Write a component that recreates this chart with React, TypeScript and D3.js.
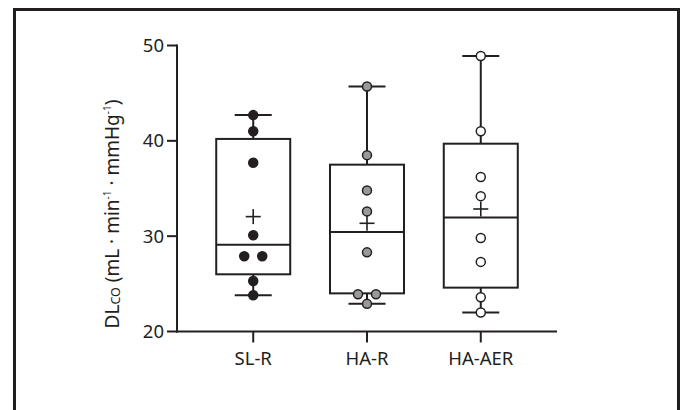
import React from "react";
import * as d3 from "d3";

const categories = ["SL-R", "HA-R", "HA-AER"];
const slrValues = [42.7, 41.0, 37.7, 30.1, 27.9, 27.9, 25.3, 23.8];
const harValues = [45.7, 38.5, 34.8, 32.6, 28.3, 23.9, 23.9, 22.9];
const haaerValues = [48.9, 41.0, 36.2, 34.2, 29.8, 27.3, 23.6, 22.0];
const q1s = [26.0, 24.0, 24.6];
const medians = [29.1, 30.45, 31.95];
const q3s = [40.2, 37.5, 39.7];
const means = [32.05, 31.35, 32.85];
const yTicks = [20, 30, 40, 50];
const markerFills = ["#231f20", "#999999", "#ffffff"];

const seriesValues = [slrValues, harValues, haaerValues];
const INK = "#231f20";
const FONT = "'Noto Sans', sans-serif";

export default function App() {
  const width = 681;
  const height = 410;
  const y = d3.scaleLinear().domain([20, 50]).range([331.5, 45.5]);
  const x = d3.scalePoint<string>().domain(categories).range([177, 557]).padding(0.67);
  const boxW = 74;
  const capW = 37;
  const r = 4.5;

  return (
    <svg
      width={width}
      height={height}
      style={{ position: "absolute", left: 0, top: 0, background: "#fff" }}
      fontFamily={FONT}
    >
      {/* frame */}
      <path d={`M14.5,412 V9.5 H678.5 V412`} fill="none" stroke={INK} strokeWidth={3} />

      {/* y axis */}
      <line x1={177} x2={177} y1={y(50) - 1} y2={y(20) + 1} stroke={INK} strokeWidth={2} />
      {yTicks.map((t) => (
        <g key={t}>
          <line x1={167} x2={177} y1={y(t)} y2={y(t)} stroke={INK} strokeWidth={2} />
          <text x={164} y={y(t)} dy="0.36em" textAnchor="end" fontSize={18.5} fill={INK}>
            {t}
          </text>
        </g>
      ))}

      {/* x axis */}
      <line x1={176} x2={557} y1={y(20)} y2={y(20)} stroke={INK} strokeWidth={2} />
      {categories.map((c) => (
        <g key={c}>
          <line x1={x(c)!} x2={x(c)!} y1={y(20)} y2={y(20) + 11} stroke={INK} strokeWidth={2} />
          <text x={x(c)!} y={365} textAnchor="middle" fontSize={18.5} fill={INK}>
            {c}
          </text>
        </g>
      ))}

      {/* y label */}
      <text
        transform={`translate(119,214) rotate(-90)`}
        textAnchor="middle"
        fontSize={19}
        fill={INK}
      >
        DL
        <tspan fontSize={12.5} dy={1}>CO</tspan>
        <tspan dy={-1}> (mL · min</tspan>
        <tspan fontSize={10} dy={-8}>-1</tspan>
        <tspan dy={8}> · mmHg</tspan>
        <tspan fontSize={10} dy={-8}>-1</tspan>
        <tspan dy={8}>)</tspan>
      </text>

      {/* boxes */}
      {categories.map((c, i) => {
        const cx = x(c)!;
        const vals = seriesValues[i];
        const mn = d3.min(vals)!;
        const mx = d3.max(vals)!;
        return (
          <g key={c} stroke={INK} strokeWidth={2} fill="none">
            <line x1={cx} x2={cx} y1={y(mx)} y2={y(q3s[i])} />
            <line x1={cx} x2={cx} y1={y(q1s[i])} y2={y(mn)} />
            <line x1={cx - capW / 2} x2={cx + capW / 2} y1={y(mx)} y2={y(mx)} />
            <line x1={cx - capW / 2} x2={cx + capW / 2} y1={y(mn)} y2={y(mn)} />
            <rect x={cx - boxW / 2} y={y(q3s[i])} width={boxW} height={y(q1s[i]) - y(q3s[i])} />
            <line x1={cx - boxW / 2} x2={cx + boxW / 2} y1={y(medians[i])} y2={y(medians[i])} />
            <line x1={cx - 7.5} x2={cx + 7.5} y1={y(means[i])} y2={y(means[i])} strokeWidth={1.6} />
            <line x1={cx} x2={cx} y1={y(means[i]) - 7.5} y2={y(means[i]) + 7.5} strokeWidth={1.6} />
          </g>
        );
      })}

      {/* points */}
      {categories.map((c, i) => {
        const cx = x(c)!;
        const vals = seriesValues[i];
        const counts = d3.rollup(vals, (v) => v.length, (v) => v);
        const seen = new Map<number, number>();
        return (
          <g key={c}>
            {vals.map((v, j) => {
              const n = counts.get(v)!;
              const k = seen.get(v) ?? 0;
              seen.set(v, k + 1);
              const off = (k - (n - 1) / 2) * 18;
              return (
                <circle
                  key={j}
                  cx={cx + off}
                  cy={y(v)}
                  r={r}
                  fill={markerFills[i]}
                  stroke={INK}
                  strokeWidth={1.5}
                />
              );
            })}
          </g>
        );
      })}
    </svg>
  );
}
